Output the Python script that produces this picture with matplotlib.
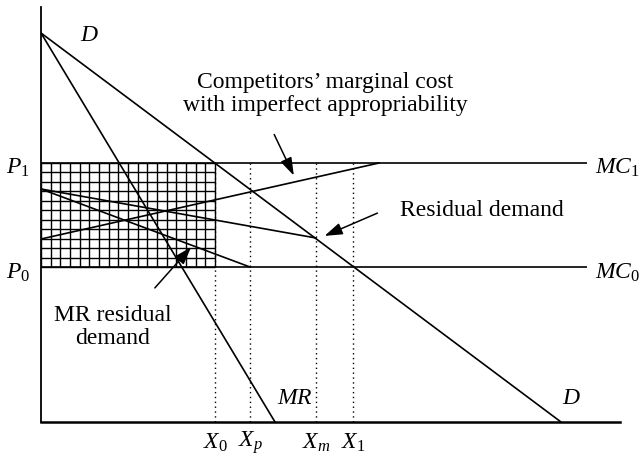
import numpy as np
import matplotlib.pyplot as plt

plt.rcParams['font.family'] = ['Liberation Serif', 'DejaVu Serif']
plt.rcParams['mathtext.fontset'] = 'custom'
plt.rcParams['mathtext.rm'] = 'Liberation Serif'
plt.rcParams['mathtext.it'] = 'Liberation Serif:italic'

# quantities / prices in diagram units
demand_x = [0, 520]
demand_y = [389, 0]
mr_x = [0, 234]
mr_y = [389, 0]
p1 = 259
p0 = 155
mc_end = 546
x_marks = [174, 209, 275, 312]
x_labels = [r'$X_0$', r'$X_p$', r'$X_m$', r'$X_1$']
resid_x = [0, 275]
resid_y = [233, 184]
mr_resid_x = [0, 209]
mr_resid_y = [233, 155]
comp_mc_x = [0, 338]
comp_mc_y = [183, 259]
grid_cols = 18
grid_rows = 11

fig = plt.figure(figsize=(6.4, 4.65), dpi=100)
ax = fig.add_axes([41 / 640, 43 / 465, 579 / 640, 415 / 465])
ax.set_xlim(0, 579)
ax.set_ylim(0, 415)
for s in ['top', 'right']:
    ax.spines[s].set_visible(False)
ax.spines['left'].set_linewidth(1.3)
ax.spines['bottom'].set_linewidth(1.8)
ax.set_xticks([])
ax.set_yticks([])

lw = 1.2
# hatched rectangle
gx = np.linspace(0, x_marks[0], grid_cols + 1)
gy = np.linspace(p0, p1, grid_rows + 1)
ax.vlines(gx, p0, p1, color='black', lw=1.0)
ax.hlines(gy, 0, x_marks[0], color='black', lw=1.0)

ax.plot(demand_x, demand_y, color='black', lw=lw)
ax.plot(mr_x, mr_y, color='black', lw=lw)
ax.hlines([p1, p0], 0, mc_end, color='black', lw=lw)
ax.plot(resid_x, resid_y, color='black', lw=lw)
ax.plot(mr_resid_x, mr_resid_y, color='black', lw=lw)
ax.plot(comp_mc_x, comp_mc_y, color='black', lw=lw)
ax.vlines(x_marks, 0, p1, color='black', lw=1.0, linestyles=(0, (1, 2.5)))

fs = 17
ax.text(39, 387, r'$D$', fontsize=fs, ha='left', va='center')
ax.text(521, 24, r'$D$', fontsize=fs, ha='left', va='center')
ax.text(236, 24, r'$MR$', fontsize=fs, ha='left', va='center')
ax.text(-35, p1 - 5, r'$P_1$', fontsize=fs, ha='left', va='center', clip_on=False)
ax.text(-35, p0 - 6, r'$P_0$', fontsize=fs, ha='left', va='center', clip_on=False)
ax.text(mc_end + 8, p1 - 5, r'$MC_1$', fontsize=fs, ha='left', va='center', clip_on=False)
ax.text(mc_end + 8, p0 - 6, r'$MC_0$', fontsize=fs, ha='left', va='center', clip_on=False)
for xm, lab in zip(x_marks, x_labels):
    ax.text(xm, -21, lab, fontsize=fs, ha='center', va='center', clip_on=False)

ax.text(284, 328, "Competitors\u2019 marginal cost\nwith imperfect appropriability",
        fontsize=fs, ha='center', va='center', multialignment='center', linespacing=1.1)
ax.text(359, 212, 'Residual demand', fontsize=fs, ha='left', va='center')
ax.text(72, 95, 'MR residual\ndemand', fontsize=fs, ha='center', va='center',
        multialignment='center', linespacing=1.1)

arrow = dict(arrowstyle='-|>,head_length=0.6,head_width=0.2', color='black', lw=1.1,
             mutation_scale=18)
ax.annotate('', xy=(254, 244), xytext=(232, 290), arrowprops=arrow)
ax.annotate('', xy=(281, 185), xytext=(339, 210), arrowprops=arrow)
ax.annotate('', xy=(152, 177), xytext=(112, 132), arrowprops=arrow)

fig.savefig('out.png', dpi=100)
